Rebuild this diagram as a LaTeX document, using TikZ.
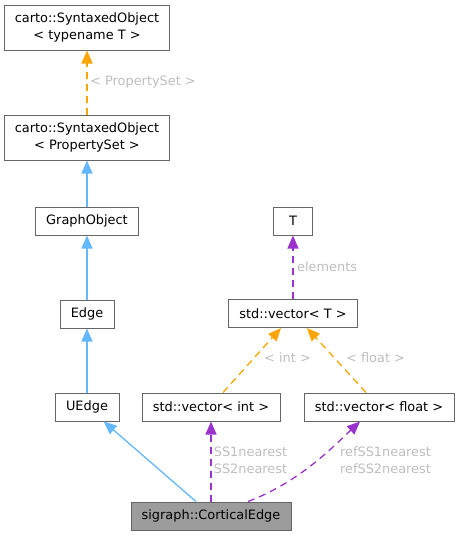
\documentclass[tikz,border=0pt]{standalone}
\usepackage{fontspec}
\setmainfont{DejaVu Sans}
\usetikzlibrary{arrows.meta}
\definecolor{inhblue}{HTML}{63B8FF}
\definecolor{tplorange}{HTML}{FFA500}
\definecolor{usepurple}{HTML}{9A32CD}
\definecolor{boxgray}{HTML}{666666}
\definecolor{lblgray}{HTML}{BEBEBE}
\tikzset{
  cls/.style={draw=boxgray, line width=1pt, fill=white, align=center,
    inner sep=0pt, minimum height=28pt},
  tip/.style={-{Triangle[width=11pt,length=13pt]}},
  inherit/.style={tip, draw=inhblue, line width=1.3pt},
  tpl/.style={tip, draw=tplorange, line width=1.3pt, dash pattern=on 7pt off 5pt},
  uses/.style={tip, draw=usepurple, line width=1.3pt, dash pattern=on 7pt off 5pt},
  lbl/.style={text=lblgray, inner sep=0pt, align=center}
}
\begin{document}
\begin{tikzpicture}[x=1pt, y=-1pt, font=\fontsize{12.9}{17}\selectfont]
  \useasboundingbox (0,0) rectangle (460,536);
  % classes
  \node[cls, minimum width=165pt, minimum height=45pt] (sot) at (87,27.5)
    {carto::SyntaxedObject\\< typename T >};
  \node[cls, minimum width=165pt, minimum height=45pt] (sops) at (87,137.5)
    {carto::SyntaxedObject\\< PropertySet >};
  \node[cls, minimum width=103pt] (graphobj) at (87,221) {GraphObject};
  \node[cls, minimum width=54pt] (edge) at (87,314) {Edge};
  \node[cls, minimum width=64pt] (uedge) at (87,407) {UEdge};
  \node[cls, minimum width=39pt] (tparam) at (293,221) {T};
  \node[cls, minimum width=129pt] (vect) at (293,313.5) {std::vector< T >};
  \node[cls, minimum width=138pt] (vecint) at (211,407) {std::vector< int >};
  \node[cls, minimum width=150pt] (vecfloat) at (379,407) {std::vector< float >};
  \node[cls, minimum width=160pt, fill=boxgray!65] (cortical) at (211,516)
    {sigraph::CorticalEdge};
  % connectors
  \draw[tpl] (sops) -- (sot);
  \draw[inherit] (graphobj) -- (sops);
  \draw[inherit] (edge) -- (graphobj);
  \draw[inherit] (uedge) -- (edge);
  \draw[inherit] ([xshift=-15pt]cortical.north) -- (uedge);
  \draw[uses] (cortical) -- (vecint);
  \draw[uses] ([xshift=37pt]cortical.north)
    .. controls (300,482) and (335,445) .. ([xshift=-19pt]vecfloat.south);
  \draw[tpl] ([xshift=12pt]vecint.north) -- ([xshift=-12pt]vect.south);
  \draw[tpl] ([xshift=-13pt]vecfloat.north) -- ([xshift=14pt]vect.south);
  \draw[uses] (vect) -- (tparam);
  % labels
  \node[lbl, anchor=west] (lps) at (90,82) {< PropertySet >};
  \node[lbl, anchor=west] (lelem) at (297,267) {elements};
  \node[lbl, anchor=west] (lint) at (264,358) {< int >};
  \node[lbl, anchor=west] (lfloat) at (346,358) {< float >};
  \node[lbl] (lss) at (250.5,460) {SS1nearest\\SS2nearest};
  \node[lbl] (lrefss) at (385.5,460) {refSS1nearest\\refSS2nearest};
\end{tikzpicture}
\end{document}
